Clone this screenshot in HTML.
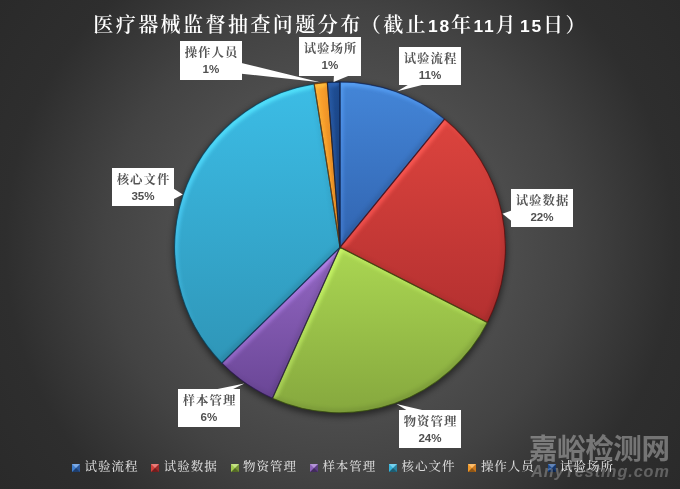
<!DOCTYPE html>
<html lang="zh-CN">
<head>
<meta charset="utf-8">
<title>医疗器械监督抽查问题分布</title>
<style>
html,body{margin:0;padding:0;background:#3a3a3a;}
body{width:680px;height:489px;overflow:hidden;position:relative;font-family:"Liberation Sans","Noto Sans CJK SC",sans-serif;}
#chart{position:absolute;left:0;top:0;width:680px;height:489px;overflow:hidden;
  background:radial-gradient(circle at 340px 245px,#525252 0px,#4d4d4d 165px,#434343 235px,#2e2e2e 335px,#2a2a2a 420px);}
svg{position:absolute;left:0;top:0;}
.soft{position:absolute;left:0;top:0;width:680px;height:489px;filter:blur(0.4px);}
.title{position:absolute;left:0.6px;top:8px;width:680px;height:34px;line-height:34px;text-align:center;color:#fff;white-space:nowrap;
  font-family:"Liberation Serif","Noto Serif CJK SC",serif;font-weight:600;font-size:20px;letter-spacing:2.45px;text-indent:0px;}
.title b{font-family:"Liberation Sans",sans-serif;font-weight:700;font-size:17.4px;letter-spacing:1.8px;position:relative;top:-0.2px;}
.title u{text-decoration:none;margin-left:-2px;}
.lab{position:absolute;background:#fff;color:#555;text-align:center;box-sizing:border-box;}
.lab .n{position:absolute;left:0;right:0;top:4.1px;height:16px;line-height:16px;font-family:"Liberation Serif","Noto Serif CJK SC",serif;font-weight:700;font-size:12.4px;letter-spacing:1.05px;text-indent:1.05px;white-space:nowrap;}
.lab .p{position:absolute;left:0;right:0;top:20.6px;height:14px;line-height:14px;font-family:"Liberation Sans",sans-serif;font-weight:700;font-size:11.6px;color:#505050;}
.leg{position:absolute;top:458px;height:18px;line-height:18px;color:#dadada;white-space:nowrap;
  font-family:"Liberation Serif","Noto Serif CJK SC",serif;font-weight:500;font-size:12.5px;letter-spacing:0.95px;}
.leg i{position:absolute;left:-12.6px;top:6px;width:0;height:0;display:block;border-style:solid;border-width:4.3px;}
.wm{position:absolute;left:529px;top:430px;width:150px;height:38px;line-height:38px;white-space:nowrap;color:rgba(255,255,255,0.34);
  font-family:"Liberation Sans","Noto Sans CJK SC",sans-serif;font-weight:700;font-size:28.6px;letter-spacing:-0.5px;}
.wm2{position:absolute;left:531.2px;top:460.2px;width:146px;height:22px;line-height:22px;white-space:nowrap;color:rgba(255,255,255,0.26);
  font-family:"Liberation Sans",sans-serif;font-weight:700;font-style:italic;font-size:16.2px;letter-spacing:0.95px;}
</style>
</head>
<body>
<div id="chart">

<div class="soft">
<svg width="680" height="489" viewBox="0 0 680 489">
<defs>
<linearGradient id="g0" gradientUnits="userSpaceOnUse" x1="0" y1="82" x2="0" y2="247"><stop offset="0" stop-color="#4486d8"/><stop offset="1" stop-color="#3164b0"/></linearGradient>
<linearGradient id="g1" gradientUnits="userSpaceOnUse" x1="0" y1="120" x2="0" y2="322"><stop offset="0" stop-color="#dc443e"/><stop offset="1" stop-color="#b43030"/></linearGradient>
<linearGradient id="g2" gradientUnits="userSpaceOnUse" x1="0" y1="250" x2="0" y2="412"><stop offset="0" stop-color="#aad652"/><stop offset="1" stop-color="#86a83e"/></linearGradient>
<linearGradient id="g3" gradientUnits="userSpaceOnUse" x1="0" y1="250" x2="0" y2="397"><stop offset="0" stop-color="#9468c4"/><stop offset="1" stop-color="#6a4696"/></linearGradient>
<linearGradient id="g4" gradientUnits="userSpaceOnUse" x1="0" y1="82" x2="0" y2="362"><stop offset="0" stop-color="#3cbde6"/><stop offset="1" stop-color="#2f96b8"/></linearGradient>
<linearGradient id="g5" gradientUnits="userSpaceOnUse" x1="0" y1="82" x2="0" y2="247"><stop offset="0" stop-color="#fba02c"/><stop offset="1" stop-color="#e88a22"/></linearGradient>
<linearGradient id="g6" gradientUnits="userSpaceOnUse" x1="0" y1="82" x2="0" y2="247"><stop offset="0" stop-color="#1f4f96"/><stop offset="1" stop-color="#173c78"/></linearGradient>
<filter id="sh" x="-20%" y="-20%" width="140%" height="140%"><feGaussianBlur stdDeviation="3"/></filter>
<filter id="bev" x="-5%" y="-5%" width="110%" height="110%" color-interpolation-filters="sRGB">
  <feGaussianBlur in="SourceAlpha" stdDeviation="2" result="b"/>
  <feOffset in="b" dx="2.2" dy="3.2" result="bo1"/>
  <feComposite in="b" in2="bo1" operator="arithmetic" k1="0" k2="1.25" k3="-1.25" k4="0" result="d1"/>
  <feComposite in="d1" in2="SourceAlpha" operator="in" result="hiA"/>
  <feComponentTransfer in="SourceGraphic" result="light">
    <feFuncR type="linear" slope="1.15" intercept="0.07"/>
    <feFuncG type="linear" slope="1.15" intercept="0.07"/>
    <feFuncB type="linear" slope="1.15" intercept="0.07"/>
  </feComponentTransfer>
  <feComposite in="light" in2="hiA" operator="in" result="hi"/>
  <feOffset in="b" dx="-2.0" dy="-3.0" result="bo2"/>
  <feComposite in="b" in2="bo2" operator="arithmetic" k1="0" k2="0.14" k3="-0.14" k4="0" result="d2"/>
  <feComposite in="d2" in2="SourceAlpha" operator="in" result="loA"/>
  <feFlood flood-color="#000000" flood-opacity="1" result="k"/>
  <feComposite in="k" in2="loA" operator="in" result="lo"/>
  <feMerge><feMergeNode in="SourceGraphic"/><feMergeNode in="hi"/><feMergeNode in="lo"/></feMerge>
</filter>
</defs>
<circle cx="340.0" cy="249.8" r="166.9" fill="#000" opacity="0.5" filter="url(#sh)"/>
<circle cx="340.0" cy="247.3" r="165.4" fill="#222"/>
<path d="M340.00,247.30 L340.00,81.90 A165.4,165.4 0 0 1 444.54,119.12 Z" fill="url(#g0)" filter="url(#bev)"/>
<path d="M340.00,247.30 L444.54,119.12 A165.4,165.4 0 0 1 487.37,322.39 Z" fill="url(#g1)" filter="url(#bev)"/>
<path d="M340.00,247.30 L487.37,322.39 A165.4,165.4 0 0 1 272.46,398.28 Z" fill="url(#g2)" filter="url(#bev)"/>
<path d="M340.00,247.30 L272.46,398.28 A165.4,165.4 0 0 1 221.83,363.02 Z" fill="url(#g3)" filter="url(#bev)"/>
<path d="M340.00,247.30 L221.83,363.02 A165.4,165.4 0 0 1 314.13,83.94 Z" fill="url(#g4)" filter="url(#bev)"/>
<path d="M340.00,247.30 L314.13,83.94 A165.4,165.4 0 0 1 327.31,82.39 Z" fill="url(#g5)" filter="url(#bev)"/>
<path d="M340.00,247.30 L327.31,82.39 A165.4,165.4 0 0 1 340.00,81.90 Z" fill="url(#g6)" filter="url(#bev)"/>
<path d="M340.00,247.30 L340.00,81.90 A165.4,165.4 0 0 1 444.54,119.12 Z" fill="none" stroke="#14285a" stroke-opacity="0.75" stroke-width="1.1" stroke-linejoin="round"/>
<path d="M340.00,247.30 L444.54,119.12 A165.4,165.4 0 0 1 487.37,322.39 Z" fill="none" stroke="#5a1010" stroke-opacity="0.75" stroke-width="1.1" stroke-linejoin="round"/>
<path d="M340.00,247.30 L487.37,322.39 A165.4,165.4 0 0 1 272.46,398.28 Z" fill="none" stroke="#3a5010" stroke-opacity="0.75" stroke-width="1.1" stroke-linejoin="round"/>
<path d="M340.00,247.30 L272.46,398.28 A165.4,165.4 0 0 1 221.83,363.02 Z" fill="none" stroke="#2c1a50" stroke-opacity="0.75" stroke-width="1.1" stroke-linejoin="round"/>
<path d="M340.00,247.30 L221.83,363.02 A165.4,165.4 0 0 1 314.13,83.94 Z" fill="none" stroke="#0c4058" stroke-opacity="0.75" stroke-width="1.1" stroke-linejoin="round"/>
<path d="M340.00,247.30 L314.13,83.94 A165.4,165.4 0 0 1 327.31,82.39 Z" fill="none" stroke="#6e3a06" stroke-opacity="0.75" stroke-width="1.1" stroke-linejoin="round"/>
<path d="M340.00,247.30 L327.31,82.39 A165.4,165.4 0 0 1 340.00,81.90 Z" fill="none" stroke="#0a1c40" stroke-opacity="0.75" stroke-width="1.1" stroke-linejoin="round"/>
<polygon points="408.6,84.5 424.0,84.5 397.3,91.2" fill="#fff"/>
<polygon points="511.5,210.5 511.5,221.0 502.5,213.7" fill="#fff"/>
<polygon points="407.2,410.5 424.2,410.5 396.5,404.0" fill="#fff"/>
<polygon points="215.2,389.5 232.2,389.5 244.4,383.6" fill="#fff"/>
<polygon points="173.5,188.6 173.5,199.3 182.8,194.6" fill="#fff"/>
<polygon points="241.5,63.0 241.5,73.7 320.0,82.3" fill="#fff"/>
<polygon points="334.0,75.0 350.5,75.0 333.6,82.1" fill="#fff"/>
</svg>
<div class="title">医疗器械监督抽查问题分布<u>（</u>截止<b>18</b>年<b>11</b>月<b style="margin-left:2.2px">15</b>日）</div>
<div class="lab" style="left:399px;top:47px;width:62px;height:38px;"><div class="n">试验流程</div><div class="p">11%</div></div>
<div class="lab" style="left:511px;top:189px;width:62px;height:38px;"><div class="n">试验数据</div><div class="p">22%</div></div>
<div class="lab" style="left:399px;top:410px;width:62px;height:38px;"><div class="n">物资管理</div><div class="p">24%</div></div>
<div class="lab" style="left:178px;top:389px;width:62px;height:38px;"><div class="n">样本管理</div><div class="p">6%</div></div>
<div class="lab" style="left:112px;top:168px;width:62px;height:38px;"><div class="n">核心文件</div><div class="p">35%</div></div>
<div class="lab" style="left:180px;top:41px;width:62px;height:39px;"><div class="n">操作人员</div><div class="p">1%</div></div>
<div class="lab" style="left:299px;top:37.4px;width:62px;height:38.2px;"><div class="n">试验场所</div><div class="p">1%</div></div>
<div class="leg" style="left:84.6px;"><i style="border-color:#7caae4 #2b589b #1e3e6d #417fcd;"></i>试验流程</div>
<div class="leg" style="left:163.8px;"><i style="border-color:#e67c78 #9e2a2a #701e1e #d1413b;"></i>试验数据</div>
<div class="leg" style="left:243.1px;"><i style="border-color:#c4e286 #769437 #536826 #a2cb4e;"></i>物资管理</div>
<div class="leg" style="left:322.4px;"><i style="border-color:#b495d6 #5d3e84 #422b5d #8d63ba;"></i>样本管理</div>
<div class="leg" style="left:401.6px;"><i style="border-color:#76d1ee #2984a2 #1d5d72 #39b4da;"></i>核心文件</div>
<div class="leg" style="left:480.9px;"><i style="border-color:#fcbc6b #cc791e #905615 #ee982a;"></i>操作人员</div>
<div class="leg" style="left:560.1px;"><i style="border-color:#6284b6 #14356a #0e254a #1d4b8e;"></i>试验场所</div>
<div class="wm">嘉峪检测网</div>
<div class="wm2">AnyTesting.com</div>
</div>
</div>
</body>
</html>
